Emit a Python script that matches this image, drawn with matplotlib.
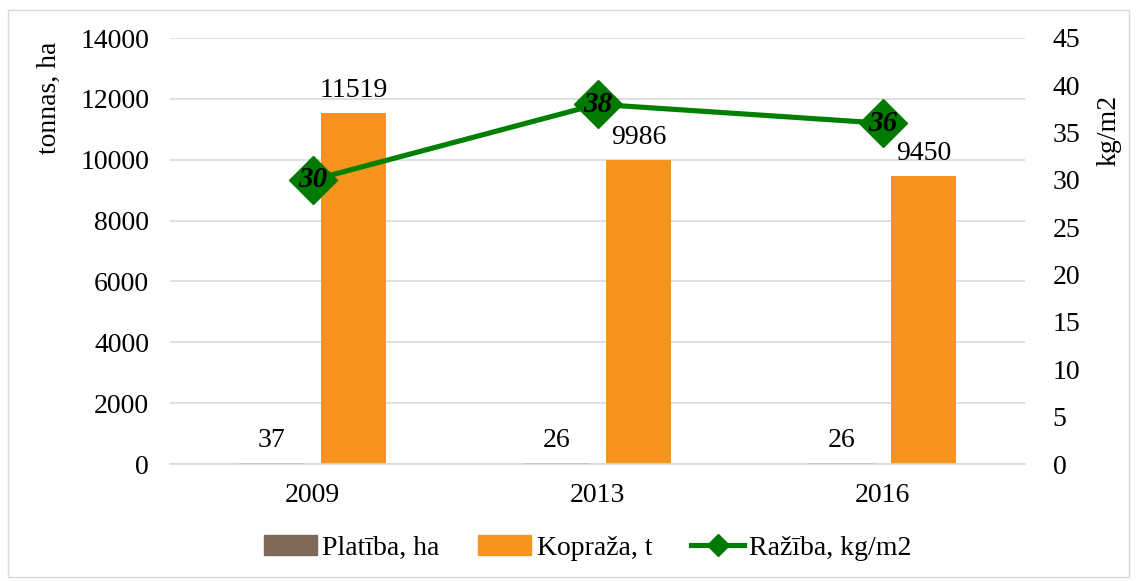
import matplotlib
matplotlib.use("Agg")
import matplotlib.pyplot as plt
import numpy as np
from matplotlib.patches import Rectangle
from matplotlib.lines import Line2D

years = ["2009", "2013", "2016"]
platiba = [37, 26, 26]
kopraza = [11519, 9986, 9450]
saziba = [30, 38, 36]

plt.rcParams['font.family'] = ['Liberation Serif', 'DejaVu Serif']
plt.rcParams['font.size'] = 20

c_plat = "#7F6A5A"
c_kop = "#F7941D"
c_line = "#008000"

fig = plt.figure(figsize=(11.37, 5.81), dpi=100)
fig.patches.append(Rectangle((8 / 1137, 1 - 577 / 581), 1121 / 1137, 567 / 581,
                             transform=fig.transFigure, fill=False,
                             edgecolor="#D9D9D9", linewidth=1))
ax = fig.add_axes([170 / 1137, 1 - 464 / 581, 855 / 1137, 426 / 581])

x = np.arange(len(years))
w = 0.225
off = 0.144
ax.bar(x - off, platiba, w, color=c_plat, zorder=2)
ax.bar(x + off, kopraza, w, color=c_kop, zorder=2)
for xi, v in zip(x - off, platiba):
    ax.text(xi, v + 330, str(v), ha="center", va="bottom")
for xi, v in zip(x + off, kopraza):
    ax.text(xi, v + 330, str(v), ha="center", va="bottom")

ax.set_xlim(-0.5, 2.5)
ax.set_ylim(0, 14000)
ax.set_yticks(range(0, 14001, 2000))
ax.set_xticks(x)
ax.set_xticklabels(years)
ax.yaxis.grid(True, color="#D9D9D9", linewidth=1.2, zorder=0)
ax.set_axisbelow(True)
for s in ["top", "right", "left"]:
    ax.spines[s].set_visible(False)
ax.spines["bottom"].set_color("#D9D9D9")
ax.spines["bottom"].set_linewidth(1.2)
ax.tick_params(axis="both", length=0)
ax.tick_params(axis="x", pad=14)
ax.tick_params(axis="y", pad=15)
ax.set_ylabel("tonnas, ha")
ax.yaxis.set_label_coords(-0.126, 0.86)

ax2 = ax.twinx()
ax2.plot(x, saziba, color=c_line, linewidth=3.7, marker="D", markersize=24,
         markerfacecolor="#007A00", markeredgecolor="#007A00", zorder=3)
for xi, v in zip(x, saziba):
    ax2.text(xi, v, str(v), ha="center", va="center", fontweight="bold",
             fontstyle="italic", fontsize=21, zorder=4)
ax2.set_ylim(0, 45)
ax2.set_yticks(range(0, 46, 5))
for s in ["top", "right", "left", "bottom"]:
    ax2.spines[s].set_visible(False)
ax2.tick_params(axis="y", length=0, pad=20)
ax2.set_ylabel("kg/m2")
ax2.yaxis.set_label_coords(1.084, 0.784)

handles = [Rectangle((0, 0), 1, 1, color=c_plat),
           Rectangle((0, 0), 1, 1, color=c_kop),
           Line2D([0], [0], color=c_line, linewidth=3.7, marker="D",
                  markersize=11, markerfacecolor="#007A00", markeredgecolor="#007A00")]
fig.legend(handles, ["Platība, ha", "Kopraža, t", "Ražība, kg/m2"],
           loc="center", bbox_to_anchor=(0.517, 1 - 548 / 581), ncol=3,
           frameon=False, handlelength=1.9, handleheight=0.7,
           columnspacing=1.4, handletextpad=0.2)

fig.savefig("out.png", dpi=100)
